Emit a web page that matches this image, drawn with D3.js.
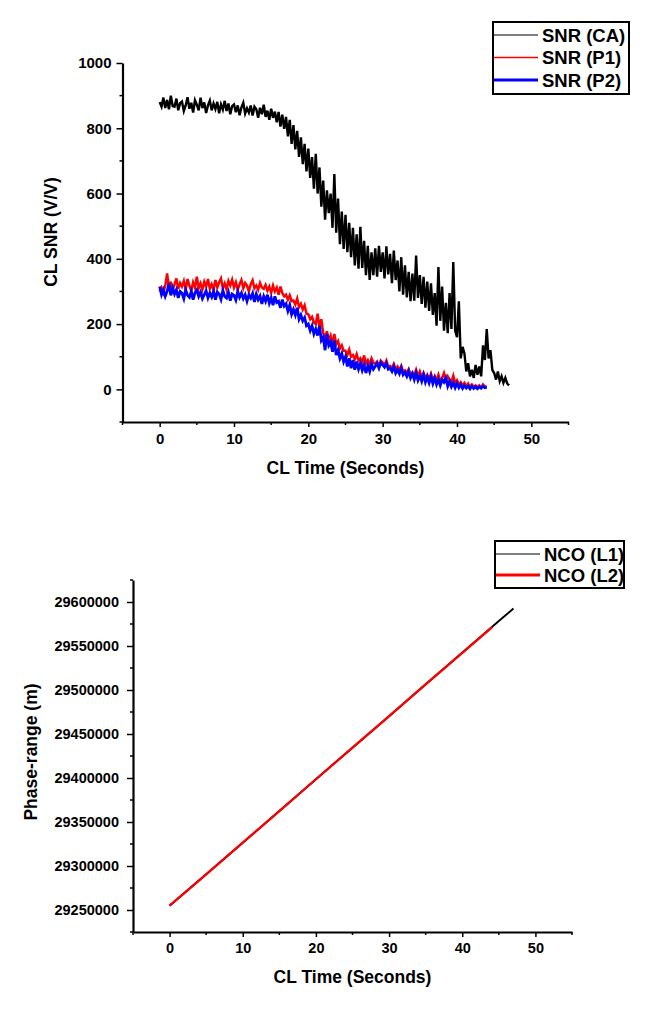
<!DOCTYPE html>
<html><head><meta charset="utf-8">
<script src="https://cdn.jsdelivr.net/npm/d3@7"></script>
<style>
html,body{margin:0;padding:0;background:#fff;}
svg{display:block;}
text{font-family:"Liberation Sans",Arial,sans-serif;font-weight:bold;fill:#000;}
</style></head>
<body>
<svg id="chart" width="658" height="1018"></svg>
<script>
// ---------- DATA ----------
const sampleStep = 0.25; // seconds between samples (top chart)
const snrCA = [
880,866,894,862, 887,858,900,868, 866,891,855,877, 882,853,870,895,
860,878,848,886, 872,855,894,862, 879,847,870,885, 855,876,859,881,
846,873,857,884, 853,876,843,868, 873,849,870,840, 864,878,845,861,
848,870,839,866, 858,832,863,843, 872,835,854,826, 860,832,851,818,
850,805,842,798, 835,775,826,752, 810,735,792,712, 772,690,752,668,
738,648,712,615, 722,600,680,560, 640,520,610,540, 600,495,660,480,
585,445,545,430, 535,420,510,405, 495,380,475,370, 498,372,455,350,
440,335,420,350, 432,345,440,360, 420,340,438,352, 415,325,425,335,
395,300,405,290, 380,282,360,270, 355,272,410,280, 350,262,345,250,
330,240,325,228, 295,195,375,210, 315,180,265,172, 295,185,390,180,
160,270,95,130, 110,55,80,40, 60,35,75,45, 70,40,135,90,
185,95,120,60, 50,30,55,25, 40,20,35,18, 12
];
const snrP1 = [
300,312,296,318, 355,310,330,305, 322,340,308,326, 315,332,305,338,
318,302,328,312, 345,310,325,306, 330,315,338,308, 322,305,335,312,
328,340,310,325, 306,332,318,336, 312,328,305,322, 335,310,326,318,
300,322,334,310, 318,305,326,312, 308,320,302,315, 296,318,300,312,
290,315,295,285, 290,275,288,270, 272,260,278,252, 262,245,258,232,
230,215,222,205, 200,232,190,215, 172,158,178,150, 165,140,170,138,
148,125,135,118, 118,105,122,100, 105,92,108,88, 95,82,104,80,
90,76,95,82, 78,85,72,88, 82,75,88,70, 72,65,78,62,
70,58,72,55, 58,50,62,45, 52,42,60,40, 55,38,50,35,
45,32,48,30, 40,28,45,25, 35,50,28,40, 30,22,42,20,
28,15,22,12, 20,10,18,8, 15,8,12,6, 12,5,15,8, 10
];
const snrP2 = [
315,290,305,285, 300,325,288,310, 292,305,280,300, 295,278,305,288,
282,300,275,296, 305,285,298,278, 290,302,280,295, 283,300,275,298,
292,276,303,285, 280,298,272,292, 288,274,300,282, 295,278,290,270,
290,280,294,268, 292,275,286,262, 285,270,290,264, 280,258,285,266,
270,250,275,255, 262,240,258,230, 245,228,250,215, 228,210,220,195,
200,180,195,170, 185,165,195,150, 160,120,170,135, 145,115,150,105,
120,95,110,85, 100,70,95,65, 90,60,85,62, 80,58,75,50,
72,55,78,62, 70,80,65,82, 75,68,80,62, 65,55,70,50,
60,48,65,45, 52,40,55,35, 48,30,50,28, 42,25,45,22,
38,20,40,18, 35,15,30,12, 30,22,35,10, 25,8,20,5,
18,5,15,3, 12,4,10,2, 10,3,8,2, 8,4,10,5, 6
];
const snrNames = ["SNR (CA)", "SNR (P1)", "SNR (P2)"];

const ncoTimeL1 = [0, 5, 10, 15, 20, 25, 30, 35, 40, 45, 47];
const ncoL1 = [29254900, 29290500, 29326500, 29362400, 29398600, 29434500, 29470300, 29506400, 29542200, 29578300, 29592600];
const ncoTimeL2 = [0, 5, 10, 15, 20, 25, 30, 35, 40, 44.1];
const ncoL2 = [29254900, 29290500, 29326500, 29362400, 29398600, 29434500, 29470300, 29506400, 29542200, 29571500];
const ncoNames = ["NCO (L1)", "NCO (L2)"];

const timeTicks = [0, 10, 20, 30, 40, 50];
const timeMinor = [-5, 5, 15, 25, 35, 45, 55];
const snrTicks = [0, 200, 400, 600, 800, 1000];
const snrMinor = [-100, 100, 300, 500, 700, 900];
const ncoTicks = [29250000, 29300000, 29350000, 29400000, 29450000, 29500000, 29550000, 29600000];
const ncoMinor = [29225000, 29275000, 29325000, 29375000, 29425000, 29475000, 29525000, 29575000, 29625000];

// ---------- DRAW ----------
const svg = d3.select("#chart");
const fmt = d3.format("d");

function drawAxes(g, x, y, o) {
  const xa = g.append("g").attr("transform", `translate(0,${y.range()[0]})`);
  xa.call(d3.axisBottom(x).tickValues(timeTicks).tickFormat(fmt).tickSize(5).tickPadding(6).tickSizeOuter(0));
  xa.append("g").selectAll("line").data(timeMinor).join("line")
    .attr("x1", d => x(d)).attr("x2", d => x(d)).attr("y1", 0).attr("y2", 3)
    .attr("stroke", "#000").attr("stroke-width", 1.5);
  const ya = g.append("g").attr("transform", `translate(${x.range()[0]},0)`);
  ya.call(d3.axisLeft(y).tickValues(o.major).tickFormat(fmt).tickSize(6).tickPadding(o.pad).tickSizeOuter(0));
  ya.append("g").selectAll("line").data(o.minor).join("line")
    .attr("y1", d => y(d)).attr("y2", d => y(d)).attr("x1", 0).attr("x2", -3)
    .attr("stroke", "#000").attr("stroke-width", 1.5);
  [xa, ya].forEach(a => {
    a.select(".domain").attr("stroke", "#000").attr("stroke-width", 2.2);
    a.selectAll(".tick line").attr("stroke", "#000").attr("stroke-width", 1.5);
    a.selectAll(".tick text").attr("font-size", o.fs).attr("font-family", "Liberation Sans, Arial, sans-serif").attr("font-weight", "bold");
  });
}

function drawLegend(g, x0, y0, w, h, rows) {
  g.append("rect").attr("x", x0).attr("y", y0).attr("width", w).attr("height", h)
    .attr("fill", "#fff").attr("stroke", "#000").attr("stroke-width", 2);
  rows.forEach((r, i) => {
    const yy = y0 + r.dy0 + i * r.step;
    g.append("line").attr("x1", x0 + 1).attr("x2", x0 + 45).attr("y1", yy).attr("y2", yy)
      .attr("stroke", r.color).attr("stroke-width", r.width);
    g.append("text").attr("x", x0 + 49).attr("y", yy).attr("dy", "0.36em")
      .attr("font-size", 18.5).text(r.name);
  });
}

// ----- top chart -----
{
  const g = svg.append("g");
  const x = d3.scaleLinear().domain([-5, 55]).range([122.5, 568.5]);
  const y = d3.scaleLinear().domain([-100, 1000]).range([422, 63]);
  const line = d3.line().x((d, i) => x(i * sampleStep)).y(d => y(d));
  g.append("path").datum(snrCA).attr("d", line).attr("fill", "none").attr("stroke", "#000").attr("stroke-width", 2.4);
  g.append("path").datum(snrP1).attr("d", line).attr("fill", "none").attr("stroke", "#ff0000").attr("stroke-width", 2.5);
  g.append("path").datum(snrP2).attr("d", line).attr("fill", "none").attr("stroke", "#0000ff").attr("stroke-width", 2.8);
  drawAxes(g, x, y, {major: snrTicks, minor: snrMinor, pad: 5, fs: 15});
  g.append("text").attr("x", (x.range()[0] + x.range()[1]) / 2).attr("y", 474)
    .attr("text-anchor", "middle").attr("font-size", 17.5).text("CL Time (Seconds)");
  g.append("text").attr("transform", "translate(57,232) rotate(-90)")
    .attr("text-anchor", "middle").attr("font-size", 17.5).text("CL SNR (V/V)");
  drawLegend(g, 493, 22, 136, 72, [
    {name: snrNames[0], color: "#000", width: 1, dy0: 13, step: 22.5},
    {name: snrNames[1], color: "#ff0000", width: 1.5, dy0: 13, step: 22.5},
    {name: snrNames[2], color: "#0000ff", width: 3, dy0: 13, step: 22.5}
  ]);
}

// ----- bottom chart -----
{
  const g = svg.append("g");
  const x = d3.scaleLinear().domain([-5, 55]).range([133, 572]);
  const y = d3.scaleLinear().domain([29225000, 29625000]).range([932, 580]);
  const l1 = d3.line().x((d, i) => x(ncoTimeL1[i])).y(d => y(d));
  const l2 = d3.line().x((d, i) => x(ncoTimeL2[i])).y(d => y(d));
  g.append("path").datum(ncoL1).attr("d", l1).attr("fill", "none").attr("stroke", "#000").attr("stroke-width", 2);
  g.append("path").datum(ncoL2).attr("d", l2).attr("fill", "none").attr("stroke", "#ff0000").attr("stroke-width", 2.2);
  drawAxes(g, x, y, {major: ncoTicks, minor: ncoMinor, pad: 8, fs: 14.5});
  g.append("text").attr("x", (x.range()[0] + x.range()[1]) / 2).attr("y", 983)
    .attr("text-anchor", "middle").attr("font-size", 17.5).text("CL Time (Seconds)");
  g.append("text").attr("transform", "translate(37,752) rotate(-90)")
    .attr("text-anchor", "middle").attr("font-size", 17.5).text("Phase-range (m)");
  drawLegend(g, 495, 541, 129, 47, [
    {name: ncoNames[0], color: "#000", width: 1, dy0: 13, step: 21},
    {name: ncoNames[1], color: "#ff0000", width: 3, dy0: 13, step: 21}
  ]);
}
</script>
</body></html>
